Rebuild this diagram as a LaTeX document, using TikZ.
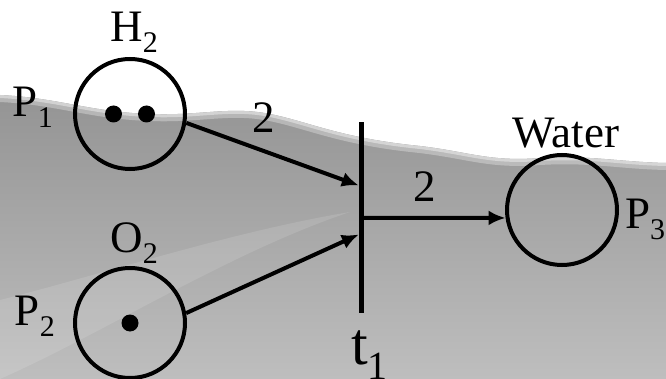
\documentclass[tikz,border=0pt]{standalone}
\usepackage{fontspec}
\setmainfont{Liberation Serif}
\newfontfamily\netfont{Liberation Serif}
\usetikzlibrary{arrows.meta,positioning}
\definecolor{HazeTop}{RGB}{148,148,148}
\definecolor{HazeLow}{RGB}{190,190,190}
\newcommand{\lowidx}[1]{\raisebox{-11pt}{\fontsize{30}{30}\selectfont #1}}
\newcommand{\biglowidx}[1]{\raisebox{-15pt}{\fontsize{40}{40}\selectfont #1}}
\newcommand{\hazecurve}{(0,95) .. controls (60,98) and (90,112) .. (150,114) .. controls (200,116) and (230,106) .. (270,114) .. controls (310,122) and (340,138) .. (420,146) .. controls (470,152) and (490,162) .. (540,158) .. controls (590,155) and (620,162) .. (666,163)}
\tikzset{
  place/.style={circle,draw=black,line width=4pt,minimum size=110pt,inner sep=0pt},
  token/.style={circle,fill=black,minimum size=17pt,inner sep=0pt},
  transbar/.style={fill=black,minimum width=5pt,minimum height=191pt,inner sep=0pt},
  lbl/.style={inner sep=0pt,font=\netfont\fontsize{45}{50}\selectfont},
  biglbl/.style={inner sep=0pt,font=\netfont\fontsize{60}{66}\selectfont},
  flowarc/.style={-{Latex[length=17pt,width=15pt]},line width=4pt,draw=black}
}

\begin{document}
\begin{tikzpicture}[x=1pt,y=-1pt]
\fill[white] (0,0) rectangle (666,379);
\useasboundingbox (0,0) rectangle (666,379);
\fill[top color=HazeTop,bottom color=HazeLow] \hazecurve -- (666,379) -- (0,379) -- cycle;
\foreach \w/\o in {14/0.3,6/0.4}
  \draw[white,opacity=\o,line width=\w pt] \hazecurve;
\fill[white,opacity=0.12] (0,300) .. controls (100,275) and (230,232) .. (350,212) .. controls (230,252) and (100,335) .. (0,379) -- cycle;

\node[place] (p1) at (130,114) {};
\node[place] (p2) at (130,323) {};
\node[place] (p3) at (562,210) {};
\node[transbar] (t1) at (361.5,217.5) {};
\node[token] (k1a) at ([xshift=-16.5pt]p1.center) {};
\node[token] (k1b) at ([xshift=16.5pt]p1.center) {};
\node[token] (k2) at (p2.center) {};

\node[lbl, above=4pt of p1, xshift=4pt] (h2) {H\lowidx{2}};
\node[lbl, above=2pt of p2, xshift=4pt] (o2) {O\lowidx{2}};
\node[lbl, above=5pt of p3, xshift=4pt] (water) {Water};
\node[lbl, left=20pt of p1, yshift=7pt] (p1name) {P\lowidx{1}};
\node[lbl, left=18pt of p2, yshift=7pt] (p2name) {P\lowidx{2}};
\node[lbl, right=6pt of p3, yshift=-9pt] (p3name) {P\lowidx{3}};
\node[biglbl, below=17pt of t1, xshift=8pt] (t1name) {t\biglowidx{1}};

\coordinate (t1in1) at ([yshift=32pt]t1.west);
\coordinate (t1in2) at ([yshift=-17pt]t1.west);
\coordinate (t1out) at ([yshift=-0.5pt]t1.east);
\draw[flowarc] (p1.-9) -- node[lbl, pos=0.45, above=17pt] {2} (t1in1);
\draw[flowarc] (p2.10) -- (t1in2);
\draw[flowarc] (t1out) -- node[lbl, pos=0.43, above=14pt] {2} (p3.188);
\end{tikzpicture}
\end{document}
